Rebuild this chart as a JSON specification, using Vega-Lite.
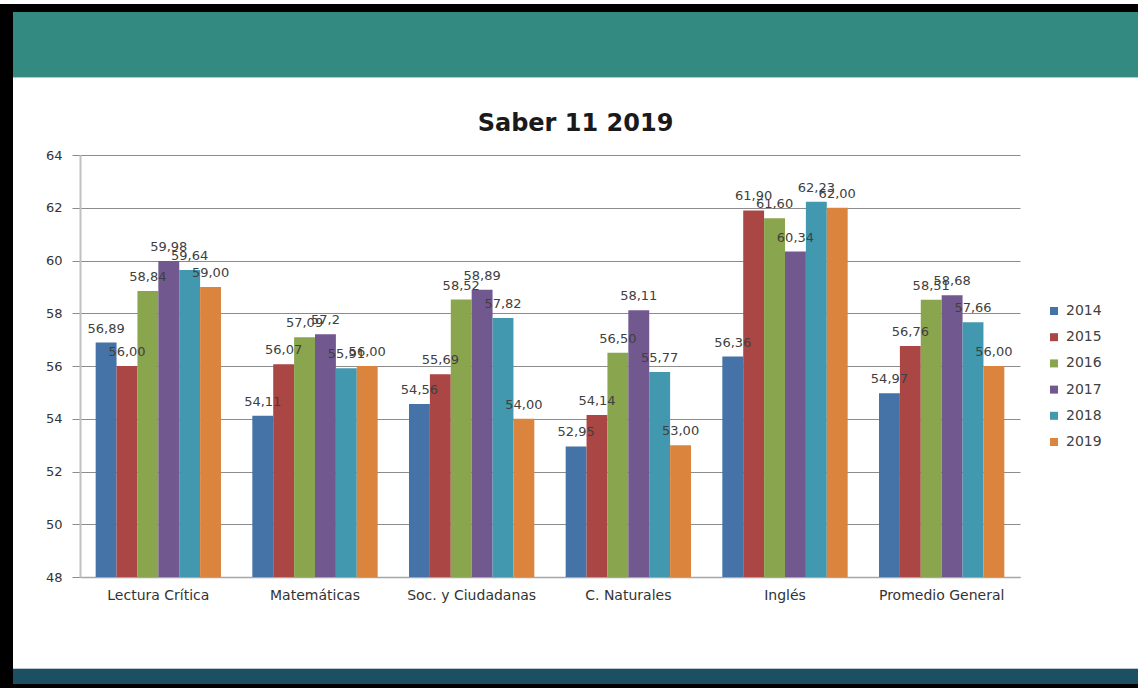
{
  "$schema": "https://vega.github.io/schema/vega-lite/v6.json",
  "background": "white",
  "padding": {"left": 0, "top": 4, "right": 0, "bottom": 0},
  "config": {"view": {"stroke": null}, "font": "DejaVu Sans"},
  "spacing": 0,
  "bounds": "full",
  "hconcat": [
    {
      "width": 13, "height": 684,
      "view": {"fill": "#000000", "stroke": null},
      "data": {"values": []},
      "mark": "rect"
    },
    {
      "spacing": 0,
      "bounds": "full",
      "vconcat": [
        {"width": 1125, "height": 8, "view": {"fill": "#000000", "stroke": null}, "data": {"values": []}, "mark": "rect"},
        {"width": 1125, "height": 65, "view": {"fill": "#328a80", "stroke": null}, "data": {"values": []}, "mark": "rect"},
        {"width": 1125, "height": 1, "view": {"fill": "#a3d3ca", "stroke": null}, "data": {"values": []}, "mark": "rect"},
        {
          "spacing": 0,
          "bounds": "full",
          "hconcat": [
            {"width": 1, "height": 422, "view": {"fill": null, "stroke": null}, "data": {"values": []}, "mark": "rect"},
            {
              "width": 940,
              "height": 422,
              "view": {"fill": null, "stroke": null},
              "data": {"values": [
                {"subject": "Lectura Crítica", "year": "2014", "score": 56.89, "label": "56,89"},
                {"subject": "Lectura Crítica", "year": "2015", "score": 56.00, "label": "56,00"},
                {"subject": "Lectura Crítica", "year": "2016", "score": 58.84, "label": "58,84"},
                {"subject": "Lectura Crítica", "year": "2017", "score": 59.98, "label": "59,98"},
                {"subject": "Lectura Crítica", "year": "2018", "score": 59.64, "label": "59,64"},
                {"subject": "Lectura Crítica", "year": "2019", "score": 59.00, "label": "59,00"},
                {"subject": "Matemáticas", "year": "2014", "score": 54.11, "label": "54,11"},
                {"subject": "Matemáticas", "year": "2015", "score": 56.07, "label": "56,07"},
                {"subject": "Matemáticas", "year": "2016", "score": 57.09, "label": "57,09"},
                {"subject": "Matemáticas", "year": "2017", "score": 57.2, "label": "57,2"},
                {"subject": "Matemáticas", "year": "2018", "score": 55.91, "label": "55,91"},
                {"subject": "Matemáticas", "year": "2019", "score": 56.00, "label": "56,00"},
                {"subject": "Soc. y Ciudadanas", "year": "2014", "score": 54.56, "label": "54,56"},
                {"subject": "Soc. y Ciudadanas", "year": "2015", "score": 55.69, "label": "55,69"},
                {"subject": "Soc. y Ciudadanas", "year": "2016", "score": 58.52, "label": "58,52"},
                {"subject": "Soc. y Ciudadanas", "year": "2017", "score": 58.89, "label": "58,89"},
                {"subject": "Soc. y Ciudadanas", "year": "2018", "score": 57.82, "label": "57,82"},
                {"subject": "Soc. y Ciudadanas", "year": "2019", "score": 54.00, "label": "54,00"},
                {"subject": "C. Naturales", "year": "2014", "score": 52.95, "label": "52,95"},
                {"subject": "C. Naturales", "year": "2015", "score": 54.14, "label": "54,14"},
                {"subject": "C. Naturales", "year": "2016", "score": 56.50, "label": "56,50"},
                {"subject": "C. Naturales", "year": "2017", "score": 58.11, "label": "58,11"},
                {"subject": "C. Naturales", "year": "2018", "score": 55.77, "label": "55,77"},
                {"subject": "C. Naturales", "year": "2019", "score": 53.00, "label": "53,00"},
                {"subject": "Inglés", "year": "2014", "score": 56.36, "label": "56,36"},
                {"subject": "Inglés", "year": "2015", "score": 61.90, "label": "61,90"},
                {"subject": "Inglés", "year": "2016", "score": 61.60, "label": "61,60"},
                {"subject": "Inglés", "year": "2017", "score": 60.34, "label": "60,34"},
                {"subject": "Inglés", "year": "2018", "score": 62.23, "label": "62,23"},
                {"subject": "Inglés", "year": "2019", "score": 62.00, "label": "62,00"},
                {"subject": "Promedio General", "year": "2014", "score": 54.97, "label": "54,97"},
                {"subject": "Promedio General", "year": "2015", "score": 56.76, "label": "56,76"},
                {"subject": "Promedio General", "year": "2016", "score": 58.51, "label": "58,51"},
                {"subject": "Promedio General", "year": "2017", "score": 58.68, "label": "58,68"},
                {"subject": "Promedio General", "year": "2018", "score": 57.66, "label": "57,66"},
                {"subject": "Promedio General", "year": "2019", "score": 56.00, "label": "56,00"}
              ]},
              "encoding": {
                "y": {
                  "field": "score", "type": "quantitative",
                  "scale": {"domain": [48, 64], "nice": false, "zero": false},
                  "axis": {
                    "title": null,
                    "values": [48, 50, 52, 54, 56, 58, 60, 62, 64],
                    "grid": true, "gridColor": "#8c8c8c", "gridWidth": 1,
                    "tickColor": "#8c8c8c", "tickSize": 8,
                    "domainColor": "#c0c0c0", "domainWidth": 2,
                    "labelFont": "DejaVu Sans", "labelFontSize": 13, "labelColor": "#333333",
                    "labelPadding": 10, "minExtent": 66, "maxExtent": 66
                  }
                },
                "xOffset": {"field": "year", "type": "nominal", "scale": {"paddingInner": 0, "paddingOuter": 0}}
              },
              "layer": [
                {
                  "mark": {"type": "bar", "clip": true},
                  "encoding": {
                    "x": {
                      "field": "subject", "type": "nominal",
                      "sort": ["Lectura Crítica", "Matemáticas", "Soc. y Ciudadanas", "C. Naturales", "Inglés", "Promedio General"],
                      "scale": {"paddingInner": 0.2, "paddingOuter": 0.1},
                      "axis": {
                        "orient": "bottom", "title": null, "ticks": false, "labelAngle": 0,
                        "labelFont": "DejaVu Sans", "labelFontSize": 14, "labelColor": "#333333",
                        "labelPadding": 11, "domainColor": "#a6a6a6", "domainWidth": 1.5,
                        "minExtent": 91, "maxExtent": 91
                      }
                    },
                    "color": {
                      "field": "year", "type": "nominal",
                      "scale": {
                        "domain": ["2014", "2015", "2016", "2017", "2018", "2019"],
                        "range": ["#4572a7", "#aa4643", "#89a54e", "#71588f", "#4198af", "#db843d"]
                      },
                      "legend": {
                        "orient": "none", "legendX": 1047, "legendY": 300, "title": null,
                        "symbolType": "square", "symbolSize": 64, "symbolStrokeWidth": 0,
                        "labelFont": "DejaVu Sans", "labelFontSize": 14, "labelColor": "#404040",
                        "rowPadding": 12.2, "labelOffset": 5, "padding": 0
                      }
                    }
                  }
                },
                {
                  "mark": {"type": "text", "dy": -14, "baseline": "middle", "align": "center", "fontSize": 13, "font": "DejaVu Sans", "color": "#404040"},
                  "encoding": {
                    "x": {
                      "field": "subject", "type": "nominal",
                      "sort": ["Lectura Crítica", "Matemáticas", "Soc. y Ciudadanas", "C. Naturales", "Inglés", "Promedio General"],
                      "axis": {
                        "orient": "top", "labels": false, "ticks": false, "domain": false, "grid": false,
                        "title": "Saber 11 2019", "titleFont": "DejaVu Sans", "titleFontSize": 24,
                        "titleFontWeight": "bold", "titleColor": "#1a1a1a",
                        "titleX": 495, "titleY": -32, "titleBaseline": "middle", "titleAlign": "center",
                        "minExtent": 77, "maxExtent": 77
                      }
                    },
                    "text": {"field": "label"}
                  }
                }
              ],
              "resolve": {"axis": {"x": "independent"}}
            }
          ]
        },
        {"width": 1125, "height": 1, "view": {"fill": "#b7c9cf", "stroke": null}, "data": {"values": []}, "mark": "rect"},
        {"width": 1125, "height": 15, "view": {"fill": "#1d4f63", "stroke": null}, "data": {"values": []}, "mark": "rect"},
        {"width": 1125, "height": 4, "view": {"fill": "#000000", "stroke": null}, "data": {"values": []}, "mark": "rect"}
      ]
    }
  ]
}
